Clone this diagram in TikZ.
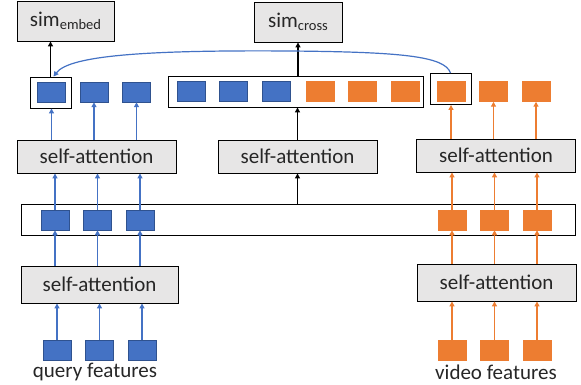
\documentclass[tikz,border=0pt]{standalone}
\usepackage{fontspec}
\setmainfont{Carlito}
\usepackage{xcolor}
\usetikzlibrary{arrows.meta,positioning}

\definecolor{qblue}{HTML}{4472C4}
\definecolor{qblueline}{HTML}{2F528F}
\definecolor{vorange}{HTML}{ED7D31}
\definecolor{boxgray}{HTML}{E7E6E6}
\definecolor{txtgray}{HTML}{262626}

\begin{document}
\begin{tikzpicture}[
    x=1pt, y=-1pt,
    node distance=14pt,
    attn/.style={rectangle, draw=black, fill=boxgray, line width=0.9pt, minimum width=159pt, minimum height=33pt, inner sep=0pt, text=txtgray, font=\fontsize{21}{24}\selectfont},
    simbox/.style={attn, minimum height=40pt},
    qsq/.style={rectangle, fill=qblue, draw=qblueline, line width=0.5pt, minimum width=28pt, minimum height=20pt, inner sep=0pt},
    vsq/.style={qsq, fill=vorange, draw=vorange},
    selbox/.style={rectangle, draw=black, line width=0.9pt, minimum height=31pt, inner sep=0pt},
    featlabel/.style={text=txtgray, font=\fontsize{21}{24}\selectfont},
    barrow/.style={-{Triangle[length=5pt,width=5pt]}, qblue, line width=1.4pt},
    oarrow/.style={barrow, vorange},
    karrow/.style={barrow, black, line width=1.6pt}
]
\useasboundingbox (0,0) rectangle (581,385);

% Similarity heads
\node [simbox, minimum width=97pt] (simE) at (65.5,21) {sim\raisebox{-3pt}{\fontsize{14.5}{16}\selectfont embed}};
\node [simbox, minimum width=88pt] (simC) at (298,22) {sim\raisebox{-3pt}{\fontsize{14.5}{16}\selectfont cross}};

% Top row of tokens
\node [qsq] (qt1) at (51.5,92) {};
\node [qsq, right=of qt1] (qt2) {};
\node [qsq, right=of qt2] (qt3) {};
\node [selbox, minimum width=41pt] (selQ) at (50.5,92.5) {};

\node [selbox, minimum width=255pt] (cross) at (295.5,91.5) {};
\node [qsq] (c1) at (191,91.5) {};
\node [qsq, right=of c1] (c2) {};
\node [qsq, right=of c2] (c3) {};
\node [vsq] (c4) at (320,91.5) {};
\node [vsq, right=of c4] (c5) {};
\node [vsq, right=of c5] (c6) {};

\node [vsq] (vt1) at (451,91.5) {};
\node [vsq, right=of vt1] (vt2) {};
\node [vsq, right=of vt2] (vt3) {};
\node [selbox, minimum width=41pt] (selV) at (450.5,89) {};

% Upper self-attention blocks
\node [attn] (saQ2) at (96.5,156.5) {self-attention};
\node [attn] (saC) at (297.5,156.5) {self-attention};
\node [attn] (saV2) at (496,155.5) {self-attention};

% Middle row of tokens
\node [selbox, minimum width=554pt] (long) at (298,219.5) {};
\node [qsq] (qm1) at (55,220) {};
\node [qsq, right=of qm1] (qm2) {};
\node [qsq, right=of qm2] (qm3) {};
\node [vsq] (vm1) at (452,220) {};
\node [vsq, right=of vm1] (vm2) {};
\node [vsq, right=of vm2] (vm3) {};

% Lower self-attention blocks
\node [attn, minimum width=157pt, minimum height=37pt] (saQ1) at (99.5,284.5) {self-attention};
\node [attn, minimum width=159pt, minimum height=37pt] (saV1) at (496.5,282.5) {self-attention};

% Input features
\node [qsq] (qb1) at (57,350.5) {};
\node [qsq, right=of qb1] (qb2) {};
\node [qsq, right=of qb2] (qb3) {};
\node [vsq] (vb1) at (452,350.5) {};
\node [vsq, right=of vb1] (vb2) {};
\node [vsq, right=of vb2] (vb3) {};
\node [featlabel] (qlab) at (95,372) {query features};
\node [featlabel] (vlab) at (496,372) {video features};

% Query branch
\draw [barrow] (qb1) -- (qb1 |- saQ1.south);
\draw [barrow] (qb2) -- (qb2 |- saQ1.south);
\draw [barrow] (qb3) -- (qb3 |- saQ1.south);
\draw [barrow] (saQ1.north -| qm1) -- (qm1);
\draw [barrow] (saQ1.north -| qm2) -- (qm2);
\draw [barrow] (saQ1.north -| qm3) -- (qm3);
\draw [barrow] (qm1) -- (qm1 |- saQ2.south);
\draw [barrow] (qm2) -- (qm2 |- saQ2.south);
\draw [barrow] (qm3) -- (qm3 |- saQ2.south);
\draw [barrow] (saQ2.north -| qt1) -- (qt1 |- selQ.south);
\draw [barrow] (saQ2.north -| qt2) -- (qt2);
\draw [barrow] (saQ2.north -| qt3) -- (qt3);

% Video branch
\draw [oarrow] (vb1) -- (vb1 |- saV1.south);
\draw [oarrow] (vb2) -- (vb2 |- saV1.south);
\draw [oarrow] (vb3) -- (vb3 |- saV1.south);
\draw [oarrow] (saV1.north -| vm1) -- (vm1);
\draw [oarrow] (saV1.north -| vm2) -- (vm2);
\draw [oarrow] (saV1.north -| vm3) -- (vm3);
\draw [oarrow] (vm1) -- (vm1 |- saV2.south);
\draw [oarrow] (vm2) -- (vm2 |- saV2.south);
\draw [oarrow] (vm3) -- (vm3 |- saV2.south);
\draw [oarrow] (saV2.north -| vt1) -- (vt1 |- selV.south);
\draw [oarrow] (saV2.north -| vt2) -- (vt2);
\draw [oarrow] (saV2.north -| vt3) -- (vt3);

% Cross branch
\draw [karrow] (long.north -| saC) -- (saC);
\draw [karrow] (saC) -- (saC |- cross.south);
\draw [karrow] (cross.north -| simC) -- (simC);
\draw [karrow] (selQ) -- (selQ |- simE.south);

% Video token fed back to the query head
\draw [barrow, line width=1.2pt] (selV.north) .. controls (445,56) and (400,52) .. (290,51) .. controls (150,50) and (70,55) .. ([xshift=3pt]selQ.north);

\end{tikzpicture}
\end{document}
